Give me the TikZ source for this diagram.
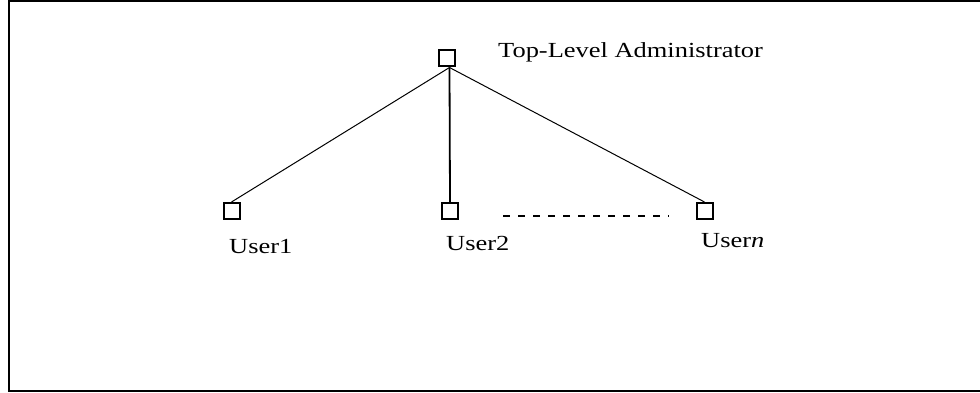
\documentclass[tikz,border=0pt]{standalone}
\usepackage{fontspec}
\setmainfont[FakeStretch=1.23]{Liberation Serif}
\usetikzlibrary{positioning,calc}
\tikzstyle{member} = [draw, line width=2pt, minimum size=16pt, inner sep=0pt]
\tikzstyle{membertitle} = [anchor=base west, inner sep=0pt, font=\fontsize{21.5}{25}\selectfont]
\tikzstyle{link} = [line width=1pt]

\begin{document}
\begin{tikzpicture}[x=1pt, y=-1pt]
	\useasboundingbox (0,0) rectangle (980,393);
	
	% FRAME
	\draw[line width=2pt] (981,1.5) -- (8.5,1.5) -- (8.5,391) -- (981,391);
	
	% MEMBERS
	\node[member] (admin) at (446.5,58.5) {};
	\node[member] (user1) at (231.5,211) {};
	\node[member] (user2) at (450,211) {};
	\node[member] (usern) at (704.5,211) {};
	
	\coordinate (hub) at ($(admin.south)+(3,0)$);
	
	% LABELS
	\node[membertitle] (admintitle) at (498,58) {Top-Level Administrator};
	\node[membertitle] (user1title) at (229,253) {User1};
	\node[membertitle] (user2title) at (446,250) {User2};
	\node[membertitle] (userntitle) at (701,247) {User\textit{n}};
	
	% LINKS
	\draw[link] (hub) -- (user1.north);
	\draw[link, line width=1.8pt] (hub) -- (user2.north);
	\draw[link] (hub) -- (usern.north);
	
	\coordinate (dotsstart) at ($(user2.center)+(53,5)$);
	\coordinate (dotsend) at ($(usern.center)+(-36,5)$);
	\draw[line width=1.5pt, dash pattern=on 7pt off 8pt] (dotsstart) -- (dotsend);
	
\end{tikzpicture}
\end{document}
